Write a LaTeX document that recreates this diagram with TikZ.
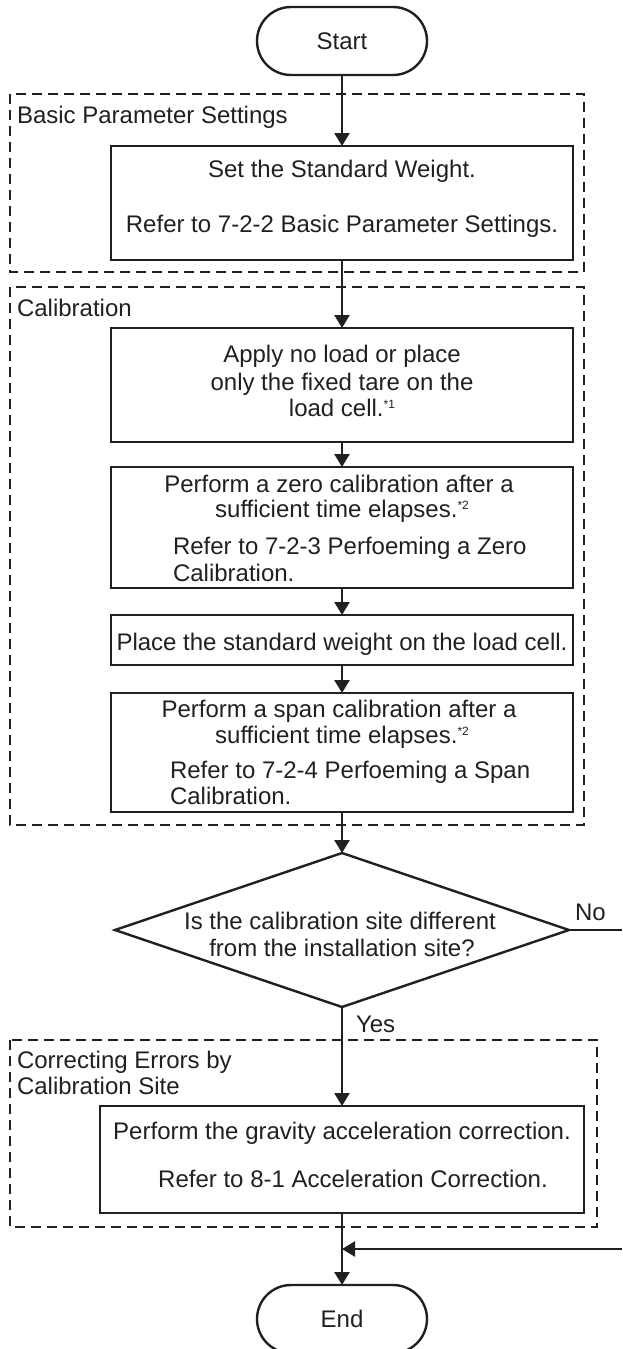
\documentclass[tikz,border=0pt]{standalone}
\usepackage{fontspec}
\setmainfont{Liberation Sans}
\usetikzlibrary{shapes.geometric,arrows.meta}
\definecolor{ink}{RGB}{35,31,32}
\newcommand{\fnmark}[1]{{\fontsize{12}{12}\selectfont\raisebox{8pt}{#1}}}
\begin{document}
\begin{tikzpicture}[x=1pt,y=-1pt, color=ink,
  every node/.style={font=\fontsize{24}{27}\selectfont, inner sep=0pt, outer sep=0pt, text=ink},
  box/.style={draw=ink, line width=2.4pt, rectangle, minimum width=462pt},
  term/.style={draw=ink, line width=2.4pt, rectangle, rounded corners=34pt, minimum width=170pt, minimum height=68pt},
  decision/.style={draw=ink, line width=2.4pt, diamond, minimum width=454pt, minimum height=154pt},
  group/.style={draw=ink, line width=1.8pt, dash pattern=on 10pt off 6pt},
  flow/.style={draw=ink, line width=2.4pt, -{Triangle[length=13pt,width=15pt]}},
  plain/.style={draw=ink, line width=2.4pt},
  txt/.style={anchor=base},
  ltxt/.style={anchor=base west},
]
\useasboundingbox (0,0) rectangle (622,1349);

% groups
\draw[group] (10,94) rectangle (584,272);
\draw[group] (10,287) rectangle (584,825);
\draw[group] (10,1040) rectangle (597,1227);

\node[ltxt] (gl1) at (17,123) {Basic Parameter Settings};
\node[ltxt] (gl2) at (17,316) {Calibration};
\node[ltxt] (gl3) at (17,1068) {Correcting Errors by};
\node[ltxt] (gl4) at (17,1094) {Calibration Site};

% nodes
\node[term] (start) at (342,41) {Start};
\node[box, minimum height=114pt] (set) at (342,203) {};
\node[box, minimum height=114pt] (apply) at (342,385) {};
\node[box, minimum height=121pt] (zero) at (342,527.5) {};
\node[box, minimum height=50pt] (place) at (342,640) {};
\node[box, minimum height=119pt] (span) at (342,752.5) {};
\node[decision] (dec) at (342,930) {};
\node[box, minimum width=484pt, minimum height=107pt] (grav) at (342,1159.5) {};
\node[term] (end) at (342,1319) {End};

% texts
\node[txt] (s1) at (342,177) {Set the Standard Weight.};
\node[txt] (s2) at (342,232) {Refer to 7-2-2 Basic Parameter Settings.};

\node[txt] (a1) at (342,362) {Apply no load or place};
\node[txt] (a2) at (342,390) {only the fixed tare on the};
\node[txt] (a3) at (342,416) {load cell.\fnmark{*1}};

\node[txt] (z1) at (339,492) {Perform a zero calibration after a};
\node[txt] (z2) at (342,517) {sufficient time elapses.\fnmark{*2}};
\node[ltxt] (z3) at (173,554) {Refer to 7-2-3 Perfoeming a Zero};
\node[ltxt] (z4) at (173,581) {Calibration.};

\node[txt] (p1) at (342,650) {Place the standard weight on the load cell.};

\node[txt] (sp1) at (339,717) {Perform a span calibration after a};
\node[txt] (sp2) at (342,743) {sufficient time elapses.\fnmark{*2}};
\node[ltxt] (sp3) at (170,778) {Refer to 7-2-4 Perfoeming a Span};
\node[ltxt] (sp4) at (170,804) {Calibration.};

\node[txt] (d1) at (340,929) {Is the calibration site different};
\node[txt] (d2) at (342,956) {from the installation site?};

\node[ltxt] (no) at (575,920) {No};
\node[ltxt] (yes) at (356,1032) {Yes};

\node[txt] (g1) at (342,1139) {Perform the gravity acceleration correction.};
\node[txt] (g2) at (353,1187) {Refer to 8-1 Acceleration Correction.};

% connectors
\draw[flow] (start) -- (set);
\draw[flow] (set) -- (apply);
\draw[flow] (apply) -- (zero);
\draw[flow] (zero) -- (place);
\draw[flow] (place) -- (span);
\draw[flow] (span) -- (dec.north);
\draw[flow] (dec.south) -- (grav);
\draw[flow] (grav) -- (end);
\coordinate (noend) at (622,930);
\draw[plain] (dec.east) -- (noend);
\coordinate (back) at (622,1249);
\draw[flow] (back) -- (back -| grav.south);
\end{tikzpicture}
\end{document}
